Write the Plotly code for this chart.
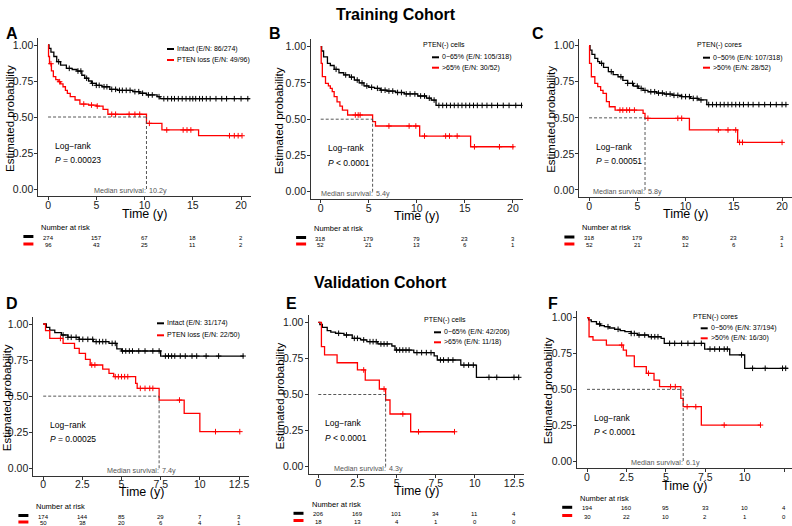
import plotly.graph_objects as go

W, H = 792, 526
FONT = "Liberation Sans, Arial, sans-serif"
BLACK = "#000000"
RED = "#FF0000"

# ================= DATA =================
# ---- Panel A (Training, PTEN status) ----
A_blk_t = [0, 0.1, 0.3, 0.6, 0.9, 1.3, 1.9, 2.5, 3.0, 3.5, 3.8, 4.2, 4.5, 5.0, 5.6, 6.4, 7.2, 8.8, 9.5, 10.2, 11.3, 11.6]
A_blk_s = [1.0, 0.977, 0.95, 0.92, 0.884, 0.86, 0.838, 0.83, 0.819, 0.79, 0.769, 0.75, 0.734, 0.72, 0.71, 0.692, 0.685, 0.676, 0.665, 0.653, 0.641, 0.627]
A_blk_end = 20.9
A_blk_cens = [1.1, 2.2, 3.1, 3.4, 4.0, 4.6, 5.0, 5.3, 5.8, 6.1, 6.6, 7.0, 7.4, 7.7, 8.1, 8.5, 9.0, 9.4, 9.8, 10.4, 10.8,
              11.5, 12.0, 12.4, 12.8, 13.1, 13.5, 13.9, 14.3, 14.7, 15.0, 15.3, 15.7, 16.0, 16.4, 16.8, 17.4, 18.0,
              18.5, 19.3, 20.0, 20.7]
A_red_t = [0, 0.05, 0.15, 0.35, 0.55, 0.8, 1.05, 1.3, 1.55, 1.8, 2.0, 2.3, 2.8, 3.3, 4.2, 5.0, 5.7, 6.2, 10.2, 11.8, 15.6]
A_red_s = [1.0, 0.92, 0.87, 0.82, 0.78, 0.76, 0.745, 0.73, 0.71, 0.685, 0.664, 0.641, 0.618, 0.59, 0.583, 0.576, 0.553, 0.519, 0.456, 0.41, 0.37]
A_red_end = 20.1
A_red_cens = [0.3, 1.2, 3.7, 4.5, 5.1, 6.6, 7.0, 8.4, 9.0, 9.5, 10.5, 12.3, 14.0, 14.4, 14.8, 18.8, 19.3, 19.7, 20.1]
A_labels = ["Intact (E/N: 86/274)", "PTEN loss (E/N: 49/96)"]
A_pval = "<i>P</i> = 0.00023"
A_median = 10.2
A_risk_blk = [274, 157, 67, 18, 2]
A_risk_red = [96, 43, 25, 11, 2]

# ---- Panel B (Training, PTEN(-) cells) ----
B_blk_t = [0, 0.1, 0.3, 0.7, 1.0, 1.4, 1.9, 2.4, 3.0, 3.5, 4.0, 4.5, 5.0, 5.6, 6.2, 6.9, 7.8, 8.7, 10.1, 11.0, 11.5, 12.0]
B_blk_s = [1.0, 0.97, 0.93, 0.885, 0.87, 0.844, 0.82, 0.805, 0.79, 0.77, 0.75, 0.729, 0.72, 0.713, 0.70, 0.694, 0.684, 0.674, 0.66, 0.645, 0.632, 0.595]
B_blk_end = 21.0
B_blk_cens = [1.6, 2.6, 3.2, 3.8, 4.3, 4.8, 5.3, 5.9, 6.3, 6.7, 7.1, 7.5, 8.0, 8.4, 8.9, 9.3, 9.8, 10.4, 10.8, 11.3,
              11.8, 12.3, 12.7, 13.1, 13.5, 13.9, 14.3, 14.7, 15.1, 15.5, 15.9, 16.3, 16.8, 17.3, 17.8, 18.4, 19.0,
              19.6, 20.3, 20.9]
B_red_t = [0, 0.05, 0.17, 0.5, 0.8, 1.0, 1.2, 1.4, 1.7, 2.0, 2.26, 2.8, 5.4, 5.7, 10.3, 15.6]
B_red_s = [1.0, 0.885, 0.793, 0.747, 0.73, 0.713, 0.69, 0.655, 0.62, 0.59, 0.563, 0.529, 0.483, 0.453, 0.384, 0.31]
B_red_end = 20.1
B_red_cens = [3.6, 3.9, 4.1, 7.1, 9.2, 9.9, 10.8, 13.0, 13.4, 14.2, 16.0, 18.6, 20.0]
B_title = "PTEN(-) cells"
B_labels = ["0\u221265% (E/N: 105/318)", ">65% (E/N: 30/52)"]
B_pval = "<i>P</i> < 0.0001"
B_median = 5.4
B_risk_blk = [318, 179, 79, 23, 3]
B_risk_red = [52, 21, 13, 6, 1]

# ---- Panel C (Training, PTEN(-) cores) ----
C_blk_t = [0, 0.1, 0.3, 0.6, 0.9, 1.1, 1.5, 2.0, 2.5, 3.0, 3.5, 4.0, 4.6, 5.1, 5.6, 6.1, 7.0, 7.8, 8.7, 9.6, 10.5, 11.3, 12.2]
C_blk_s = [1.0, 0.97, 0.94, 0.912, 0.89, 0.878, 0.85, 0.82, 0.80, 0.785, 0.76, 0.739, 0.72, 0.704, 0.69, 0.681, 0.672, 0.665, 0.656, 0.647, 0.635, 0.624, 0.592]
C_blk_end = 20.5
C_blk_cens = [1.3, 2.3, 3.3, 4.0, 4.5, 5.0, 5.4, 5.8, 6.4, 6.8, 7.2, 7.6, 8.0, 8.4, 8.8, 9.2, 9.6, 10.0, 10.4, 10.8,
              11.2, 11.6, 12.4, 12.8, 13.2, 13.6, 14.0, 14.4, 14.8, 15.2, 15.6, 16.0, 16.5, 17.0, 17.6, 18.2, 18.8,
              19.4, 20.0, 20.4]
C_red_t = [0, 0.05, 0.24, 0.6, 0.9, 1.2, 1.45, 1.8, 2.1, 2.7, 5.6, 5.8, 10.4, 15.4]
C_red_s = [1.0, 0.878, 0.785, 0.739, 0.716, 0.69, 0.67, 0.612, 0.577, 0.554, 0.531, 0.497, 0.416, 0.33]
C_red_end = 20.1
C_red_cens = [3.2, 3.5, 3.9, 4.2, 4.7, 6.1, 9.2, 9.6, 13.4, 14.4, 15.2, 15.6, 15.9, 20.0]
C_title = "PTEN(-) cores"
C_labels = ["0\u221250% (E/N: 107/318)", ">50% (E/N: 28/52)"]
C_pval = "<i>P</i> = 0.00051"
C_median = 5.8
C_risk_blk = [318, 179, 80, 23, 3]
C_risk_red = [52, 21, 12, 6, 1]

# ---- Panel D (Validation, PTEN status) ----
D_blk_t = [0, 0.2, 0.42, 0.74, 1.16, 1.58, 2.3, 3.2, 4.2, 4.7, 5.0, 7.5]
D_blk_s = [1.0, 0.977, 0.958, 0.94, 0.924, 0.908, 0.894, 0.878, 0.866, 0.827, 0.813, 0.778]
D_blk_end = 12.8
D_blk_cens = [1.27, 1.58, 1.79, 2.1, 2.3, 2.53, 2.85, 3.16, 3.38, 3.59, 3.8, 4.0, 4.4, 4.6, 5.06, 5.27, 5.5, 5.7,
              6.1, 6.5, 7.0, 7.4, 7.8, 8.0, 8.2, 8.4, 8.75, 9.07, 9.5, 9.8, 10.4, 11.2, 12.76]
D_red_t = [0, 0.15, 0.42, 1.27, 2.0, 2.3, 2.7, 3.0, 3.8, 4.2, 4.5, 5.9, 6.0, 7.4, 9.0, 10.0]
D_red_s = [1.0, 0.954, 0.90, 0.866, 0.831, 0.797, 0.755, 0.716, 0.688, 0.658, 0.635, 0.589, 0.554, 0.473, 0.381, 0.254]
D_red_end = 12.55
D_red_cens = [1.1, 3.1, 3.3, 4.6, 4.8, 5.0, 5.2, 5.4, 6.2, 6.5, 6.8, 7.0, 8.7, 11.0, 12.55]
D_labels = ["Intact (E/N: 31/174)", "PTEN loss (E/N: 22/50)"]
D_pval = "<i>P</i> = 0.00025"
D_median = 7.4
D_risk_blk = [174, 144, 85, 29, 7, 3]
D_risk_red = [50, 38, 20, 6, 4, 1]

# ---- Panel E (Validation, PTEN(-) cells) ----
E_blk_t = [0, 0.1, 0.26, 0.57, 0.8, 1.1, 1.64, 2.17, 2.7, 3.1, 3.8, 4.7, 4.9, 6.1, 7.4, 7.6, 9.1, 10.1]
E_blk_s = [1.0, 0.985, 0.965, 0.942, 0.932, 0.924, 0.912, 0.889, 0.878, 0.866, 0.85, 0.836, 0.808, 0.79, 0.767, 0.739, 0.704, 0.619]
E_blk_end = 12.8
E_blk_cens = [1.3, 1.8, 2.3, 2.5, 2.9, 3.3, 3.5, 3.7, 4.0, 4.2, 4.4, 5.0, 5.2, 5.4, 5.6, 5.8, 6.3, 6.6, 6.9, 7.2,
              7.8, 8.0, 8.3, 8.6, 9.3, 9.6, 9.9, 10.9, 11.4, 12.5, 12.8]
E_red_t = [0, 0.2, 0.4, 1.2, 2.5, 3.0, 3.9, 4.3, 4.58, 5.9]
E_red_s = [1.0, 0.831, 0.774, 0.72, 0.67, 0.6, 0.538, 0.462, 0.365, 0.242]
E_red_end = 8.7
E_red_cens = [2.9, 4.2, 5.4, 6.4, 8.7]
E_title = "PTEN(-) cells"
E_labels = ["0\u221265% (E/N: 42/206)", ">65% (E/N: 11/18)"]
E_pval = "<i>P</i> < 0.0001"
E_median = 4.3
E_risk_blk = [206, 169, 101, 34, 11, 4]
E_risk_red = [18, 13, 4, 1, 0, 0]

# ---- Panel F (Validation, PTEN(-) cores) ----
F_blk_t = [0, 0.1, 0.27, 0.6, 0.85, 1.1, 1.4, 1.75, 2.1, 2.4, 2.8, 3.2, 3.9, 4.7, 4.9, 7.46, 9.05, 10.0]
F_blk_s = [1.0, 0.985, 0.972, 0.956, 0.945, 0.937, 0.928, 0.919, 0.91, 0.902, 0.89, 0.879, 0.867, 0.856, 0.821, 0.781, 0.74, 0.647]
F_blk_end = 12.75
F_blk_cens = [0.8, 1.33, 1.97, 2.8, 3.0, 3.3, 3.66, 4.08, 4.3, 4.5, 5.24, 5.56, 6.0, 6.4, 6.8, 7.25, 7.8, 8.1, 8.4,
              8.7, 8.9, 9.8, 10.5, 11.3, 12.4, 12.6]
F_red_t = [0, 0.13, 0.38, 1.23, 2.3, 2.5, 3.0, 3.76, 4.25, 4.6, 5.95, 6.1, 7.25]
F_red_s = [1.0, 0.867, 0.844, 0.809, 0.774, 0.733, 0.658, 0.612, 0.565, 0.519, 0.437, 0.379, 0.251]
F_red_end = 11.0
F_red_cens = [2.2, 3.9, 5.3, 5.6, 6.35, 6.9, 8.7, 11.0]
F_title = "PTEN(-) cores"
F_labels = ["0\u221250% (E/N: 37/194)", ">50% (E/N: 16/30)"]
F_pval = "<i>P</i> < 0.0001"
F_median = 6.1
F_risk_blk = [194, 160, 95, 33, 10, 4]
F_risk_red = [30, 22, 10, 2, 1, 0]

TRAIN_TICKS = [0, 5, 10, 15, 20]
TRAIN_TICKTEXT = ["0", "5", "10", "15", "20"]
VALID_TICKS = [0, 2.5, 5, 7.5, 10, 12.5]
VALID_TICKTEXT = ["0", "2.5", "5", "7.5", "10", "12.5"]
Y_TICKS = [0, 0.25, 0.5, 0.75, 1.0]
Y_TICKTEXT = ["0.00", "0.25", "0.50", "0.75", "1.00"]

# ================= LAYOUT (pixel geometry) =================
panels = [
    dict(letter="A", blk=(A_blk_t, A_blk_s, A_blk_end, A_blk_cens), red=(A_red_t, A_red_s, A_red_end, A_red_cens),
         title=None, labels=A_labels, pval=A_pval, median=A_median, risk=(A_risk_blk, A_risk_red),
         ticks=TRAIN_TICKS, ticktext=TRAIN_TICKTEXT, xr=[-1, 21], dom=(38.4, 250.7, 37.8, 196.2),
         letter_xy=(4, 33), ytitle_x=10, xtitle_y=214, lr_x=0.5,
         leg=(167, 49, 60), legtitle=None,
         risk_y=(227, 237.5, 245)),
    dict(letter="B", blk=(B_blk_t, B_blk_s, B_blk_end, B_blk_cens), red=(B_red_t, B_red_s, B_red_end, B_red_cens),
         title=B_title, labels=B_labels, pval=B_pval, median=B_median, risk=(B_risk_blk, B_risk_red),
         ticks=TRAIN_TICKS, ticktext=TRAIN_TICKTEXT, xr=[-1, 21], dom=(311.1, 522.5, 39.4, 199.0),
         letter_xy=(267, 33), ytitle_x=279, xtitle_y=216, lr_x=0.5,
         leg=(432, 57.3, 67.7), legtitle=(420.7, 45),
         risk_y=(228.7, 238.5, 245)),
    dict(letter="C", blk=(C_blk_t, C_blk_s, C_blk_end, C_blk_cens), red=(C_red_t, C_red_s, C_red_end, C_red_cens),
         title=C_title, labels=C_labels, pval=C_pval, median=C_median, risk=(C_risk_blk, C_risk_red),
         ticks=TRAIN_TICKS, ticktext=TRAIN_TICKTEXT, xr=[-1, 21], dom=(579.4, 791.7, 38.5, 197.2),
         letter_xy=(530, 33), ytitle_x=551, xtitle_y=214, lr_x=0.5,
         leg=(703, 57.7, 67.7), legtitle=(694.7, 45),
         risk_y=(227, 238, 245)),
    dict(letter="D", blk=(D_blk_t, D_blk_s, D_blk_end, D_blk_cens), red=(D_red_t, D_red_s, D_red_end, D_red_cens),
         title=None, labels=D_labels, pval=D_pval, median=D_median, risk=(D_risk_blk, D_risk_red),
         ticks=VALID_TICKS, ticktext=VALID_TICKTEXT, xr=[-0.625, 13.125], dom=(33.4, 248.8, 316.8, 475.5),
         letter_xy=(4, 303), ytitle_x=7, xtitle_y=492, lr_x=0.3,
         leg=(157, 323.3, 335.3), legtitle=None,
         risk_y=(506, 516.5, 523)),
    dict(letter="E", blk=(E_blk_t, E_blk_s, E_blk_end, E_blk_cens), red=(E_red_t, E_red_s, E_red_end, E_red_cens),
         title=E_title, labels=E_labels, pval=E_pval, median=E_median, risk=(E_risk_blk, E_risk_red),
         ticks=VALID_TICKS, ticktext=VALID_TICKTEXT, xr=[-0.625, 13.125], dom=(308.5, 523.8, 315.1, 473.9),
         letter_xy=(284, 303), ytitle_x=279, xtitle_y=490.5, lr_x=0.3,
         leg=(434, 332.3, 342.3), legtitle=(422, 320),
         risk_y=(504.7, 514.3, 521.5)),
    dict(letter="F", blk=(F_blk_t, F_blk_s, F_blk_end, F_blk_cens), red=(F_red_t, F_red_s, F_red_end, F_red_cens),
         title=F_title, labels=F_labels, pval=F_pval, median=F_median, risk=(F_risk_blk, F_risk_red),
         ticks=VALID_TICKS, ticktext=VALID_TICKTEXT, xr=[-0.622, 13.0], dom=(577.2, 792.0, 310.5, 468.2),
         letter_xy=(546, 303), ytitle_x=548, xtitle_y=485.5, lr_x=0.3,
         leg=(700.7, 328.3, 338.3), legtitle=(691, 316.7),
         risk_y=(498.7, 508.3, 516.5)),
]


def px(x, y):
    return x / W, 1 - y / H


def surv_at(ts, ss, t):
    val = ss[0]
    for ti, si in zip(ts, ss):
        if ti <= t:
            val = si
    return val


fig = go.Figure()
annotations = []
shapes = []
layout_axes = {}

for i, p in enumerate(panels, start=1):
    xa = "x" if i == 1 else f"x{i}"
    ya = "y" if i == 1 else f"y{i}"
    xl, xr_, yt, yb = p["dom"]
    x0, _ = px(xl, 0)
    x1, _ = px(xr_, 0)
    _, y0 = px(0, yb)
    _, y1 = px(0, yt)
    axis_common = dict(showline=True, linecolor="#333333", linewidth=1, ticks="outside", ticklen=3,
                       tickwidth=1, tickcolor="#333333", showgrid=False, zeroline=False,
                       tickfont=dict(family=FONT, size=10.5, color="#1a1a1a"), fixedrange=True)
    layout_axes["xaxis" if i == 1 else f"xaxis{i}"] = dict(
        domain=[x0, min(x1, 1.0)], range=p["xr"], tickvals=p["ticks"], ticktext=p["ticktext"],
        anchor=ya, ticklabelstandoff=-4, **axis_common)
    layout_axes["yaxis" if i == 1 else f"yaxis{i}"] = dict(
        domain=[y0, y1], range=[-0.05, 1.05], tickvals=Y_TICKS, ticktext=Y_TICKTEXT,
        anchor=xa, ticklabelstandoff=-1, **axis_common)

    # curves
    for key, col in (("blk", BLACK), ("red", RED)):
        ts, ss, tend, cens = p[key]
        fig.add_trace(go.Scatter(x=list(ts) + [tend], y=list(ss) + [ss[-1]], mode="lines",
                                 line=dict(color=col, width=1.3, shape="hv"),
                                 xaxis=xa, yaxis=ya, showlegend=False, hoverinfo="skip"))
        fig.add_trace(go.Scatter(x=cens, y=[surv_at(ts, ss, c) for c in cens], mode="markers",
                                 marker=dict(symbol="cross-thin", size=4, color=col,
                                             line=dict(width=1, color=col)),
                                 xaxis=xa, yaxis=ya, showlegend=False, hoverinfo="skip"))

    # median dashed lines
    med = p["median"]
    shapes.append(dict(type="line", xref=xa, yref=ya, x0=0, x1=med, y0=0.5, y1=0.5,
                       line=dict(color="#444444", width=0.9, dash="3px,2px")))
    shapes.append(dict(type="line", xref=xa, yref=ya, x0=med, x1=med, y0=0, y1=0.5,
                       line=dict(color="#444444", width=0.9, dash="3px,2px")))
    annotations.append(dict(text="Median survival:", xref=xa, yref=ya, x=med, y=-0.012, xanchor="right",
                            yanchor="middle", showarrow=False, borderpad=0, xshift=1,
                            font=dict(family=FONT, size=7.2, color="#555555")))
    annotations.append(dict(text=f"{med}y", xref=xa, yref=ya, x=med, y=-0.012, xanchor="left",
                            yanchor="middle", showarrow=False, borderpad=0, xshift=2,
                            font=dict(family=FONT, size=7.2, color="#555555")))

    # log-rank text
    annotations.append(dict(text="Log\u2212rank", xref=xa, yref=ya, x=p["lr_x"], y=0.30, xanchor="left",
                            yanchor="middle", showarrow=False, font=dict(family=FONT, size=8.5, color="black")))
    annotations.append(dict(text=p["pval"], xref=xa, yref=ya, x=p["lr_x"], y=0.20, xanchor="left",
                            yanchor="middle", showarrow=False, font=dict(family=FONT, size=8.5, color="black")))

    # panel letter
    lx, ly = px(*p["letter_xy"])
    annotations.append(dict(text=f"<b>{p['letter']}</b>", xref="paper", yref="paper", x=lx, y=ly,
                            xanchor="left", yanchor="middle", showarrow=False,
                            font=dict(family=FONT, size=16, color="black")))

    # axis titles
    tx, ty = px(p["ytitle_x"], (yt + yb) / 2 + 2)
    annotations.append(dict(text="Estimated probability", xref="paper", yref="paper", x=tx, y=ty,
                            textangle=-90, xanchor="center", yanchor="middle", showarrow=False,
                            font=dict(family=FONT, size=11.5, color="black")))
    tx, ty = px((xl + xr_) / 2, p["xtitle_y"])
    annotations.append(dict(text="Time (y)", xref="paper", yref="paper", x=tx, y=ty,
                            xanchor="center", yanchor="middle", showarrow=False,
                            font=dict(family=FONT, size=12.5, color="black")))

    # in-panel legend
    lgx, lgy1, lgy2 = p["leg"]
    if p["legtitle"] is not None:
        ttx, tty = px(*p["legtitle"])
        annotations.append(dict(text=p["title"], xref="paper", yref="paper", x=ttx, y=tty,
                                xanchor="left", yanchor="middle", showarrow=False,
                                font=dict(family=FONT, size=7, color="black")))
    for lab, col, ly_ in ((p["labels"][0], BLACK, lgy1), (p["labels"][1], RED, lgy2)):
        sx0, sy = px(lgx, ly_)
        sx1, _ = px(lgx + 7, ly_)
        shapes.append(dict(type="line", xref="paper", yref="paper", x0=sx0, x1=sx1, y0=sy, y1=sy,
                           line=dict(color=col, width=2)))
        ax_, ay_ = px(lgx + 8, ly_)
        annotations.append(dict(text=lab, xref="paper", yref="paper", x=ax_, y=ay_,
                                xanchor="left", yanchor="middle", showarrow=False,
                                font=dict(family=FONT, size=7, color="black")))

    # number at risk table
    ry0, ry1, ry2 = p["risk_y"]
    nx, ny = px(xl + 1, ry0)
    annotations.append(dict(text="Number at risk", xref="paper", yref="paper", x=nx, y=ny,
                            xanchor="left", yanchor="middle", showarrow=False,
                            font=dict(family=FONT, size=7.5, color="black")))
    for vals, col, ry in ((p["risk"][0], BLACK, ry1), (p["risk"][1], RED, ry2)):
        for t, v in zip(p["ticks"], vals):
            _, yy = px(0, ry)
            annotations.append(dict(text=str(v), xref=xa, yref="paper", x=t, y=yy,
                                    xanchor="center", yanchor="middle", showarrow=False,
                                    font=dict(family=FONT, size=6, color="black")))
        sx0, sy = px(xl - 15, ry - 1)
        sx1, _ = px(xl - 5, ry - 1)
        shapes.append(dict(type="line", xref="paper", yref="paper", x0=sx0, x1=sx1, y0=sy, y1=sy,
                           line=dict(color=col, width=3)))

# cohort titles
tx, ty = px(396, 14)
annotations.append(dict(text="<b>Training Cohort</b>", xref="paper", yref="paper", x=tx, y=ty,
                        xanchor="center", yanchor="middle", showarrow=False,
                        font=dict(family=FONT, size=16, color="black")))
tx, ty = px(380, 282)
annotations.append(dict(text="<b>Validation Cohort</b>", xref="paper", yref="paper", x=tx, y=ty,
                        xanchor="center", yanchor="middle", showarrow=False,
                        font=dict(family=FONT, size=16, color="black")))

fig.update_layout(width=W, height=H, autosize=False, margin=dict(l=0, r=0, t=0, b=0),
                  paper_bgcolor="white", plot_bgcolor="white", showlegend=False,
                  annotations=annotations, shapes=shapes, **layout_axes)

fig.write_html("out.html", config={"displayModeBar": False},
               post_script="document.body.style.margin='0';document.body.style.overflow='hidden';")
